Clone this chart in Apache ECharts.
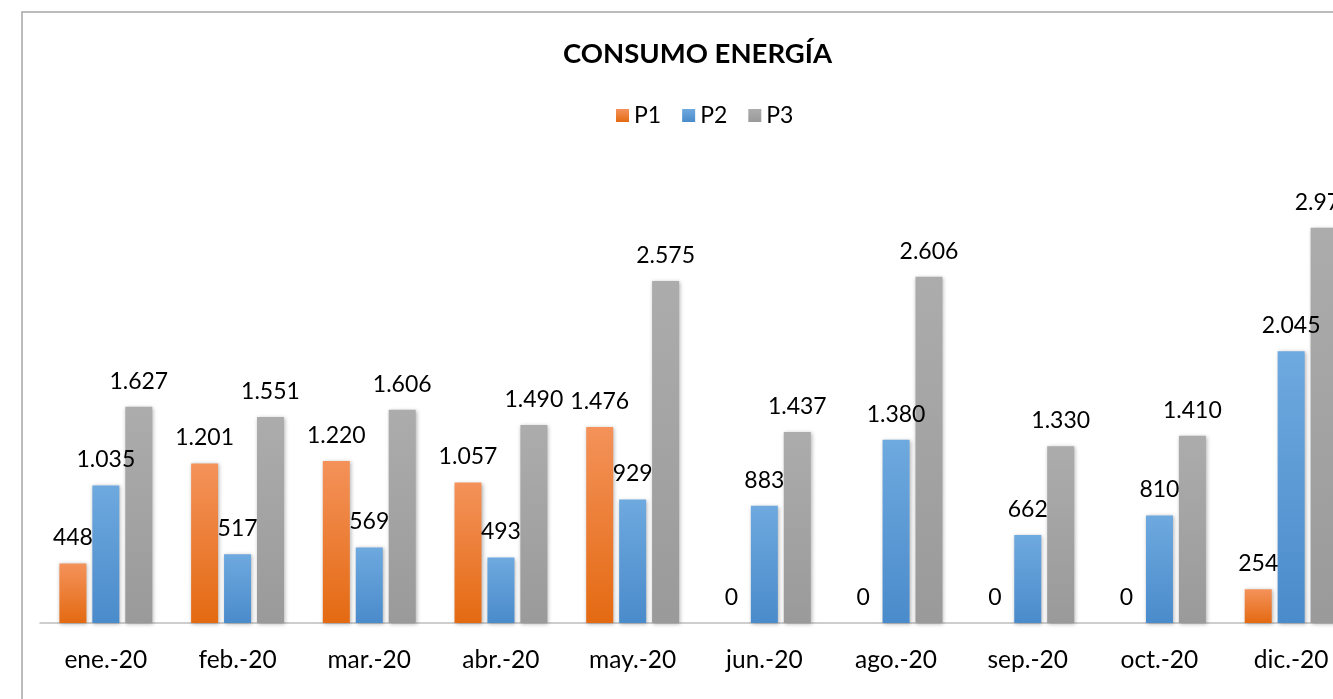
<!DOCTYPE html>
<html>
<head>
<meta charset="utf-8">
<script src="https://cdn.jsdelivr.net/npm/echarts@6/dist/echarts.min.js"></script>
<style>
html, body { margin: 0; padding: 0; background: #fff; }
#chart { width: 1333px; height: 699px; }
</style>
</head>
<body>
<div id="chart"></div>
<script>
// datos
const meses = ['ene.-20', 'feb.-20', 'mar.-20', 'abr.-20', 'may.-20', 'jun.-20', 'ago.-20', 'sep.-20', 'oct.-20', 'dic.-20'];
const p1 = [448, 1201, 1220, 1057, 1476, 0, 0, 0, 0, 254];
const p2 = [1035, 517, 569, 493, 929, 883, 1380, 662, 810, 2045];
const p3 = [1627, 1551, 1606, 1490, 2575, 1437, 2606, 1330, 1410, 2975];

const fuente = 'Lato, "Open Sans", sans-serif';

function miles(v) {
    return String(v).replace(/\B(?=(\d{3})+(?!\d))/g, '.');
}

function degradado(arriba, abajo) {
    return new echarts.graphic.LinearGradient(0, 0, 0, 1, [
        { offset: 0, color: arriba },
        { offset: 1, color: abajo }
    ]);
}

function serie(nombre, datos, arriba, abajo) {
    return {
        name: nombre,
        type: 'bar',
        data: datos,
        barWidth: 27,
        barGap: '22%',
        itemStyle: {
            color: degradado(arriba, abajo),
            shadowBlur: 4,
            shadowOffsetX: 1,
            shadowOffsetY: 1,
            shadowColor: 'rgba(0,0,0,0.3)'
        },
        label: {
            show: true,
            position: 'top',
            distance: 14,
            color: '#000',
            fontFamily: fuente,
            fontSize: 23,
            formatter: p => miles(p.value)
        }
    };
}

const myChart = echarts.init(document.getElementById('chart'));
myChart.setOption({
    animation: false,
    color: ['#ED7D31', '#5B9BD5', '#A5A5A5'],
    graphic: [{
        type: 'rect',
        shape: { x: 22, y: 12, width: 1400, height: 800 },
        style: { fill: 'none', stroke: '#A6A6A6', lineWidth: 1.5 },
        silent: true
    }],
    title: {
        text: 'CONSUMO ENERGÍA',
        left: 563,
        top: 40,
        padding: 0,
        textStyle: { fontFamily: fuente, fontSize: 27.5, fontWeight: 'bold', color: '#000' }
    },
    legend: {
        data: ['P1', 'P2', 'P3'],
        left: 616,
        top: 104,
        padding: 0,
        itemWidth: 13,
        itemHeight: 13,
        itemGap: 21,
        icon: 'rect',
        textStyle: { fontFamily: fuente, fontSize: 23, color: '#000' }
    },
    grid: { left: 40, width: 1317, top: 158, bottom: 76, outerBoundsMode: 'none' },
    xAxis: {
        type: 'category',
        data: meses,
        axisLine: { lineStyle: { color: '#BFBFBF', width: 1.5 } },
        axisTick: { show: false },
        axisLabel: { margin: 25, color: '#000', fontFamily: fuente, fontSize: 24.5 }
    },
    yAxis: {
        type: 'value',
        min: 0,
        max: 3500,
        show: false,
        splitLine: { show: false }
    },
    series: [
        serie('P1', p1, '#F4925A', '#E46A12'),
        serie('P2', p2, '#6EA9DF', '#4A8BCB'),
        serie('P3', p3, '#ACACAC', '#9A9A9A')
    ]
});
</script>
</body>
</html>
